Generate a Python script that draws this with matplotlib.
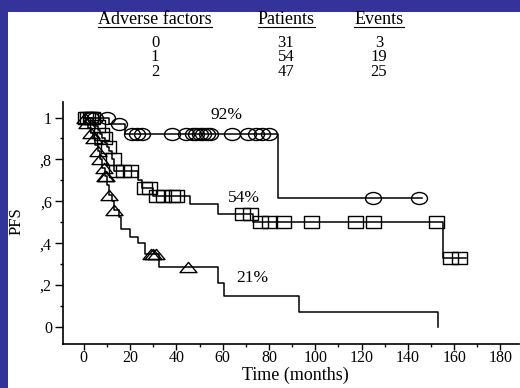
import numpy as np
import matplotlib
matplotlib.use("Agg")
import matplotlib.pyplot as plt
from matplotlib.path import Path
from matplotlib.patches import Rectangle
from matplotlib.lines import Line2D

plt.rcParams["font.family"] = ["Liberation Serif", "DejaVu Serif"]

# ---- risk table ----
table_headers = ["Adverse factors", "Patients", "Events"]
adverse_factors = ["0", "1", "2"]
patients = [31, 54, 47]
events = [3, 19, 25]

# ---- Kaplan-Meier estimates (months, PFS) ----
# 0 adverse factors
t0 = [0, 11, 18, 84]
s0 = [1.0, 0.967, 0.92, 0.615]
end0 = 146
cens0 = [3, 5, 10, 15, 21, 23, 25, 38, 44, 47, 48.5, 50, 51.5, 53, 54.5,
         64, 71, 74.5, 77, 80, 125, 145]

# 1 adverse factor
t1 = [0, 4, 5, 6, 7, 8, 9, 10, 11, 12, 13, 23.5, 25, 30, 46, 58, 73, 155]
s1 = [1.0, 0.98, 0.96, 0.94, 0.92, 0.90, 0.88, 0.86, 0.84, 0.80, 0.745,
      0.70, 0.665, 0.625, 0.587, 0.54, 0.50, 0.33]
end1 = 165
cens1 = [0.5, 1.5, 2.5, 3.5, 5.5, 7.5, 8.5, 10.5, 12.5, 14, 17, 20, 26, 28,
         31, 34, 38, 40, 68.5, 72, 76, 80, 86, 98, 117, 125, 152, 158, 162]

# 2 adverse factors
t2 = [0, 1, 2, 3, 4, 5, 6, 7, 8, 9, 10, 11, 12, 13, 15, 16, 20, 23.5, 26.5,
      32.5, 58, 60.5, 93, 153]
s2 = [1.0, 0.975, 0.95, 0.925, 0.90, 0.87, 0.84, 0.80, 0.76, 0.72, 0.68,
      0.63, 0.60, 0.56, 0.527, 0.47, 0.43, 0.40, 0.35, 0.286, 0.21, 0.15,
      0.073, 0.0]
end2 = 153
cens2 = [0.5, 1.5, 3, 4.5, 6, 7, 8.5, 9, 9.5, 11, 13, 29, 30, 31, 45]

pct_labels = ["92%", "54%", "21%"]
pct_pos = [(61.8, 1.012), (69.1, 0.616), (72.6, 0.234)]

x_ticks = list(range(0, 181, 20))
y_ticks = [0, 0.2, 0.4, 0.6, 0.8, 1.0]
y_ticklabels = ["0", ",2", ",4", ",6", ",8", "1"]

# ---- censor markers ----
ell_v = Path.unit_circle().vertices * np.array([1.0, 0.75])
ellipse = Path(ell_v, Path.unit_circle().codes)
rect = Path([(-1, -0.8), (1, -0.8), (1, 0.8), (-1, 0.8), (-1, -0.8)],
            [Path.MOVETO, Path.LINETO, Path.LINETO, Path.LINETO, Path.CLOSEPOLY])
tri = Path([(0, 0.6), (-1, -0.6), (1, -0.6), (0, 0.6)],
           [Path.MOVETO, Path.LINETO, Path.LINETO, Path.CLOSEPOLY])

W, H = 520, 388
fig = plt.figure(figsize=(W / 100, H / 100), dpi=100, facecolor="#333399")
fig.patches.append(Rectangle((8 / W, 0), 1, 1 - 12 / H, transform=fig.transFigure,
                             facecolor="white", edgecolor="none", zorder=-5))

ax = fig.add_axes([63 / W, (H - 344) / H, 456 / W, 242 / H])
ax.set_facecolor("none")
ax.set_xlim(-9, 188)
ax.set_ylim(-0.081, 1.074)


def km_curve(t, s, end, cens, marker, ms):
    tt = list(t) + [end]
    ss = list(s) + [s[-1]]
    ax.step(tt, ss, where="post", color="black", lw=1.1, zorder=3)
    idx = np.searchsorted(np.array(t), np.array(cens), side="right") - 1
    cy = np.array(s)[idx]
    ax.plot(cens, cy, linestyle="none", marker=marker, ms=ms, mfc="none",
            mec="black", mew=1.0, clip_on=False, zorder=4)


km_curve(t0, s0, end0, cens0, ellipse, 11.5)
km_curve(t1, s1, end1, cens1, rect, 10.8)
km_curve(t2, s2, end2, cens2, tri, 12.2)

for lab, (px, py) in zip(pct_labels, pct_pos):
    ax.text(px, py, lab, ha="center", va="center", fontsize=12.5)

for side in ("top", "right"):
    ax.spines[side].set_visible(False)
for side in ("left", "bottom"):
    ax.spines[side].set_linewidth(1.2)

ax.set_xticks(x_ticks)
ax.set_xticks(list(range(10, 181, 20)), minor=True)
ax.set_yticks(y_ticks)
ax.set_yticklabels(y_ticklabels)
ax.set_yticks([0.1, 0.3, 0.5, 0.7, 0.9], minor=True)
ax.tick_params(axis="x", which="major", direction="out", length=4.0,
               width=1.0, labelsize=11.5, pad=0)
ax.tick_params(axis="y", which="major", direction="out", length=5.5,
               width=1.0, labelsize=11.5, pad=2.5)
ax.tick_params(which="minor", direction="out", length=2.5, width=1.0)

ax.set_ylabel("PFS", fontsize=12)
ax.yaxis.set_label_coords((25 - 63) / 456, (344 - 221.5) / 242)
ax.set_xlabel("Time (months)", fontsize=13)
ax.xaxis.set_label_coords((295 - 63) / 456, (344 - 367) / 242)

# ---- risk table above the plot ----
col_x = [155, 286, 379]
head_texts = []
for x, h in zip(col_x, table_headers):
    head_texts.append(fig.text(x / W, 1 - 24 / H, h, ha="center",
                               va="baseline", fontsize=13))
row_y = [46.7, 61.3, 76]
for y, a, p, e in zip(row_y, adverse_factors, patients, events):
    for x, v in zip(col_x, [a, str(p), str(e)]):
        fig.text(x / W, 1 - y / H, v, ha="center", va="baseline", fontsize=12)

fig.canvas.draw()
rend = fig.canvas.get_renderer()
for t in head_texts:
    bb = t.get_window_extent(rend)
    fig.add_artist(Line2D([bb.x0 / W, bb.x1 / W], [1 - 26.5 / H, 1 - 26.5 / H],
                          transform=fig.transFigure, color="black", lw=0.8))

fig.savefig("out.png", dpi=100, facecolor=fig.get_facecolor())
